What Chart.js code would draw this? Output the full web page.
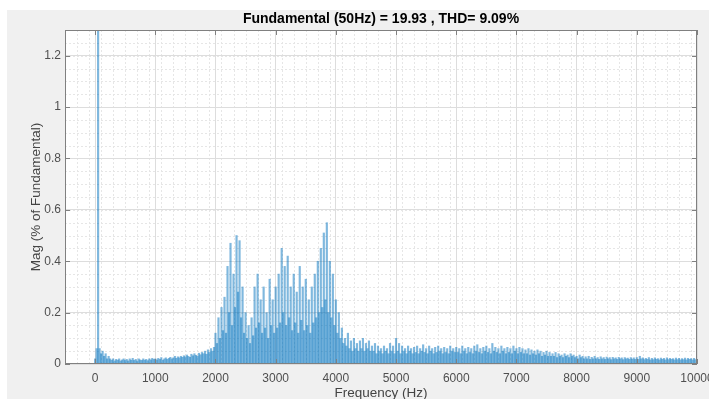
<!DOCTYPE html>
<html>
<head>
<meta charset="utf-8">
<script src="https://cdn.jsdelivr.net/npm/chart.js@4/dist/chart.umd.min.js"></script>
<style>
  html, body { margin: 0; padding: 0; background: #ffffff; }
  #wrap { width: 709px; height: 399px; }
</style>
</head>
<body>
<div id="wrap"><canvas id="fft" width="709" height="399"></canvas></div>
<script>
// ---- texts ----
const chartTitle = 'Fundamental (50Hz) = 19.93 , THD= 9.09%';
const xAxisTitle = 'Frequency (Hz)';
const yAxisTitle = 'Mag (% of Fundamental)';

// ---- axes ----
const xTickValues = [0, 1000, 2000, 3000, 4000, 5000, 6000, 7000, 8000, 9000, 10000];
const yTickValues = [0, 0.2, 0.4, 0.6, 0.8, 1, 1.2];
const xRange = [-500, 10000];
const yRange = [0, 1.3];
const xMinorStep = 200;
const yMinorStep = 0.05;

// ---- spectrum: magnitude (% of fundamental), one value per 25 Hz bin ----
const binHz = 25;
const mag0000 = [0.02, 0.06, 100, 0.06, 0.04, 0.05, 0.03, 0.04, 0.02, 0.03,
                 0.02, 0.015, 0.02, 0.012, 0.018, 0.015, 0.02, 0.012, 0.016, 0.02,
                 0.014, 0.018, 0.012, 0.02, 0.015, 0.022, 0.014, 0.018, 0.012, 0.02,
                 0.016, 0.014, 0.02, 0.015, 0.018, 0.013, 0.02, 0.016, 0.022, 0.018];
const mag1000 = [0.02, 0.016, 0.022, 0.018, 0.025, 0.015, 0.02, 0.024, 0.018, 0.022,
                 0.026, 0.02, 0.024, 0.03, 0.022, 0.028, 0.024, 0.03, 0.026, 0.032,
                 0.028, 0.035, 0.03, 0.026, 0.038, 0.032, 0.04, 0.034, 0.03, 0.042,
                 0.036, 0.045, 0.04, 0.05, 0.038, 0.055, 0.045, 0.06, 0.05, 0.065];
const mag2000 = [0.12, 0.08, 0.18, 0.1, 0.22, 0.13, 0.26, 0.12, 0.38, 0.2,
                 0.47, 0.15, 0.35, 0.22, 0.5, 0.28, 0.48, 0.18, 0.3, 0.12,
                 0.2, 0.1, 0.15, 0.08, 0.18, 0.11, 0.3, 0.14, 0.35, 0.16,
                 0.25, 0.12, 0.3, 0.14, 0.2, 0.1, 0.33, 0.15, 0.25, 0.12];
const mag3000 = [0.3, 0.14, 0.35, 0.16, 0.45, 0.2, 0.38, 0.15, 0.42, 0.18,
                 0.3, 0.13, 0.35, 0.16, 0.28, 0.12, 0.38, 0.17, 0.3, 0.13,
                 0.33, 0.15, 0.25, 0.12, 0.3, 0.16, 0.35, 0.18, 0.4, 0.2,
                 0.45, 0.22, 0.51, 0.25, 0.55, 0.2, 0.4, 0.18, 0.35, 0.15];
const mag4000 = [0.25, 0.12, 0.2, 0.1, 0.14, 0.08, 0.1, 0.07, 0.12, 0.06,
                 0.09, 0.05, 0.1, 0.06, 0.08, 0.05, 0.09, 0.06, 0.1, 0.05,
                 0.08, 0.06, 0.09, 0.05, 0.07, 0.05, 0.08, 0.04, 0.07, 0.05,
                 0.06, 0.04, 0.07, 0.05, 0.06, 0.04, 0.08, 0.05, 0.07, 0.04];
const mag5000 = [0.1, 0.05, 0.08, 0.04, 0.07, 0.05, 0.06, 0.04, 0.07, 0.05,
                 0.06, 0.04, 0.065, 0.045, 0.07, 0.04, 0.06, 0.05, 0.075, 0.045,
                 0.06, 0.04, 0.07, 0.05, 0.06, 0.04, 0.065, 0.045, 0.07, 0.05,
                 0.06, 0.04, 0.065, 0.045, 0.06, 0.04, 0.07, 0.05, 0.06, 0.045];
const mag6000 = [0.065, 0.045, 0.06, 0.04, 0.07, 0.05, 0.06, 0.04, 0.065, 0.045,
                 0.06, 0.04, 0.07, 0.05, 0.075, 0.045, 0.06, 0.04, 0.065, 0.05,
                 0.07, 0.045, 0.06, 0.04, 0.08, 0.05, 0.065, 0.045, 0.06, 0.04,
                 0.07, 0.05, 0.06, 0.04, 0.065, 0.045, 0.06, 0.04, 0.07, 0.05];
const mag7000 = [0.06, 0.04, 0.065, 0.045, 0.06, 0.04, 0.055, 0.04, 0.06, 0.035,
                 0.055, 0.04, 0.05, 0.035, 0.055, 0.04, 0.05, 0.03, 0.045, 0.035,
                 0.05, 0.03, 0.045, 0.03, 0.04, 0.03, 0.045, 0.025, 0.04, 0.03,
                 0.035, 0.025, 0.04, 0.03, 0.035, 0.025, 0.04, 0.03, 0.035, 0.025];
const mag8000 = [0.03, 0.02, 0.035, 0.025, 0.03, 0.02, 0.028, 0.02, 0.03, 0.018,
                 0.026, 0.02, 0.03, 0.02, 0.025, 0.018, 0.028, 0.02, 0.025, 0.018,
                 0.027, 0.02, 0.025, 0.017, 0.026, 0.02, 0.024, 0.018, 0.026, 0.02,
                 0.024, 0.017, 0.025, 0.02, 0.023, 0.018, 0.025, 0.019, 0.024, 0.018];
const mag9000 = [0.025, 0.018, 0.03, 0.02, 0.024, 0.017, 0.022, 0.018, 0.025, 0.016,
                 0.022, 0.017, 0.024, 0.018, 0.021, 0.016, 0.023, 0.018, 0.022, 0.016,
                 0.024, 0.017, 0.022, 0.018, 0.021, 0.016, 0.023, 0.017, 0.022, 0.016,
                 0.021, 0.017, 0.023, 0.016, 0.022, 0.018, 0.021, 0.016, 0.022, 0.017,
                 0.02];

const magnitudes = [].concat(mag0000, mag1000, mag2000, mag3000, mag4000,
                             mag5000, mag6000, mag7000, mag8000, mag9000);
const spectrum = magnitudes.map((m, i) => ({ x: i * binHz, y: m }));

// ---- styling ----
const FONT = '"Liberation Sans", Arial, Helvetica, sans-serif';
const boxColor = '#808080';

// figure background, axes background and minor grid
const backdrop = {
  id: 'backdrop',
  beforeDraw(chart) {
    const { ctx, chartArea: a, scales: { x, y } } = chart;
    ctx.save();
    ctx.fillStyle = '#ffffff';
    ctx.fillRect(0, 0, chart.width, chart.height);
    ctx.fillStyle = '#f0f0f0';
    ctx.fillRect(7, 10, chart.width - 7, chart.height - 10);
    ctx.fillStyle = '#ffffff';
    ctx.fillRect(a.left, a.top, a.right - a.left, a.bottom - a.top);

    ctx.strokeStyle = '#e6e6e6';
    ctx.lineWidth = 1;
    ctx.setLineDash([2, 2]);
    ctx.beginPath();
    for (let v = xRange[0]; v <= xRange[1] + 1e-9; v += xMinorStep) {
      const px = Math.round(x.getPixelForValue(v)) + 0.5;
      ctx.moveTo(px, a.top); ctx.lineTo(px, a.bottom);
    }
    for (let v = yRange[0]; v <= yRange[1] + 1e-9; v += yMinorStep) {
      const py = Math.round(y.getPixelForValue(v)) + 0.5;
      ctx.moveTo(a.left, py); ctx.lineTo(a.right, py);
    }
    ctx.stroke();
    ctx.restore();
  }
};

// axes box, inward tick marks and the title
const frame = {
  id: 'frame',
  afterDatasetsDraw(chart) {
    const { ctx, chartArea: a, scales: { x, y } } = chart;
    ctx.save();
    ctx.strokeStyle = boxColor;
    ctx.lineWidth = 1;
    ctx.strokeRect(a.left + 0.5, a.top + 0.5, a.right - a.left - 1, a.bottom - a.top - 1);
    const tl = 5;
    ctx.beginPath();
    xTickValues.forEach(v => {
      const px = Math.round(x.getPixelForValue(v)) + 0.5;
      ctx.moveTo(px, a.bottom); ctx.lineTo(px, a.bottom - tl);
      ctx.moveTo(px, a.top); ctx.lineTo(px, a.top + tl);
    });
    yTickValues.forEach(v => {
      const py = Math.round(y.getPixelForValue(v)) + 0.5;
      ctx.moveTo(a.left, py); ctx.lineTo(a.left + tl, py);
      ctx.moveTo(a.right, py); ctx.lineTo(a.right - tl, py);
    });
    ctx.stroke();

    ctx.fillStyle = '#000000';
    ctx.font = 'bold 14px ' + FONT;
    ctx.textAlign = 'center';
    ctx.textBaseline = 'middle';
    ctx.fillText(chartTitle, (a.left + a.right) / 2, 19);
    ctx.restore();
  }
};

new Chart(document.getElementById('fft'), {
  type: 'bar',
  data: {
    datasets: [{
      data: spectrum,
      backgroundColor: 'rgba(0, 114, 189, 0.5)',
      borderWidth: 0,
      barPercentage: 1,
      categoryPercentage: 1,
      clip: 0
    }]
  },
  options: {
    responsive: false,
    devicePixelRatio: 1,
    animation: false,
    layout: { padding: { top: 30, right: 12, left: 0, bottom: 0 } },
    plugins: { legend: { display: false }, tooltip: { enabled: false }, title: { display: false } },
    scales: {
      x: {
        type: 'linear',
        min: xRange[0],
        max: xRange[1],
        offset: false,
        afterBuildTicks(s) { s.ticks = xTickValues.map(v => ({ value: v })); },
        afterFit(s) { s.height = 35; s.paddingLeft = 0; s.paddingRight = 0; },
        grid: { color: '#dddddd', offset: false, drawTicks: false },
        border: { display: false },
        ticks: {
          autoSkip: false, maxRotation: 0, padding: 7,
          color: '#4f4f4f', font: { family: FONT, size: 12 },
          callback: v => String(v)
        },
        title: {
          display: true, text: xAxisTitle, color: '#444444',
          font: { family: FONT, size: 13.5, lineHeight: 0.8 }, padding: 0
        }
      },
      y: {
        type: 'linear',
        min: yRange[0],
        max: yRange[1],
        afterBuildTicks(s) { s.ticks = yTickValues.map(v => ({ value: v })); },
        afterFit(s) { s.width = 65; s.paddingTop = 0; s.paddingBottom = 0; },
        grid: { color: '#dddddd', drawTicks: false },
        border: { display: false },
        ticks: {
          autoSkip: false, padding: 4,
          color: '#4f4f4f', font: { family: FONT, size: 12 },
          callback: v => String(v)
        },
        title: {
          display: true, text: yAxisTitle, color: '#444444',
          font: { family: FONT, size: 13.5 }, padding: { top: 28, bottom: 0 }
        }
      }
    }
  },
  plugins: [backdrop, frame]
});
</script>
</body>
</html>
